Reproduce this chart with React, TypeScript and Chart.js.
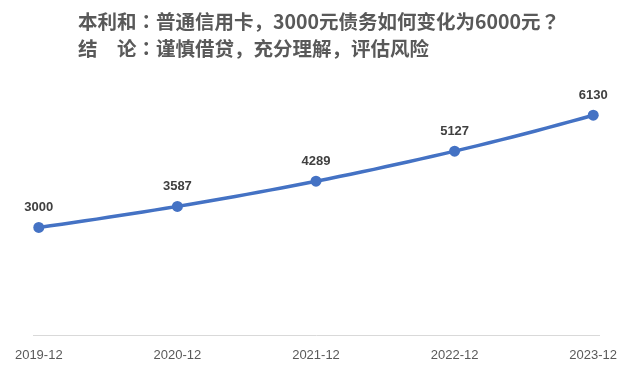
import React, { useEffect, useRef } from "react";
import { Chart, registerables } from "chart.js";

Chart.register(...registerables);

const months: string[] = [
  "2019-12",
  "2020-01", "2020-02", "2020-03", "2020-04", "2020-05", "2020-06", "2020-07", "2020-08", "2020-09", "2020-10", "2020-11", "2020-12",
  "2021-01", "2021-02", "2021-03", "2021-04", "2021-05", "2021-06", "2021-07", "2021-08", "2021-09", "2021-10", "2021-11", "2021-12",
  "2022-01", "2022-02", "2022-03", "2022-04", "2022-05", "2022-06", "2022-07", "2022-08", "2022-09", "2022-10", "2022-11", "2022-12",
  "2023-01", "2023-02", "2023-03", "2023-04", "2023-05", "2023-06", "2023-07", "2023-08", "2023-09", "2023-10", "2023-11", "2023-12",
];

const balance: number[] = [
  3000,
  3045, 3091, 3137, 3184, 3232, 3281, 3330, 3380, 3431, 3482, 3534, 3587,
  3641, 3695, 3751, 3807, 3864, 3922, 3981, 4041, 4101, 4163, 4225, 4289,
  4353, 4418, 4485, 4552, 4620, 4690, 4760, 4832, 4904, 4978, 5052, 5127,
  5204, 5282, 5361, 5442, 5523, 5606, 5690, 5776, 5862, 5950, 6039, 6130,
];

const tickLabels: string[] = ["2019-12", "2020-12", "2021-12", "2022-12", "2023-12"];

const titleLine1 = "本利和：普通信用卡，3000元债务如何变化为6000元？";
const titleLine2 = "结\u3000论：谨慎借贷，充分理解，评估风险";

const BLUE = "#4472C4";

const labelPlugin = {
  id: "yearLabels",
  afterDatasetsDraw(chart: any) {
    const ctx = chart.ctx;
    const meta = chart.getDatasetMeta(0);
    ctx.save();
    ctx.font = "bold 13px 'Liberation Sans', 'DejaVu Sans', sans-serif";
    ctx.fillStyle = "#404040";
    ctx.textAlign = "center";
    ctx.textBaseline = "middle";
    meta.data.forEach((pt: any, i: number) => {
      if (tickLabels.includes(months[i])) {
        ctx.fillText(String(balance[i]), pt.x, pt.y - 20);
      }
    });
    ctx.restore();
  },
};

// Render full-width colon / question mark with a font whose glyphs are centred
function TitleLine({ text }: { text: string }) {
  const parts = text.split(/([：？])/);
  return (
    <div>
      {parts.map((p, i) =>
        p === "：" || p === "？" ? (
          <span key={i} style={{ fontFamily: "'Noto Sans CJK JP', sans-serif" }}>
            {p}
          </span>
        ) : (
          <React.Fragment key={i}>{p}</React.Fragment>
        )
      )}
    </div>
  );
}

export default function App() {
  const ref = useRef<HTMLCanvasElement | null>(null);

  useEffect(() => {
    if (!ref.current) return;
    const isYear = (i: number) => tickLabels.includes(months[i]);
    const chart = new Chart(ref.current, {
      type: "line",
      data: {
        labels: months,
        datasets: [
          {
            data: balance,
            borderColor: BLUE,
            backgroundColor: BLUE,
            borderWidth: 3.5,
            tension: 0,
            pointRadius: (c: any) => (isYear(c.dataIndex) ? 5.5 : 0),
            pointHoverRadius: 0,
            pointBackgroundColor: BLUE,
            pointBorderColor: BLUE,
            pointBorderWidth: 0,
          },
        ],
      },
      options: {
        animation: false,
        responsive: false,
        maintainAspectRatio: false,
        layout: { padding: { left: 33, right: 35, top: 84, bottom: 0 } },
        plugins: {
          legend: { display: false },
          tooltip: { enabled: false },
          title: { display: false },
        },
        scales: {
          x: {
            type: "category",
            offset: true,
            grid: { display: false, drawTicks: false },
            border: { display: true, color: "#D9D9D9", width: 1 },
            afterFit: (s: any) => {
              s.height = 34;
            },
            ticks: {
              autoSkip: false,
              maxRotation: 0,
              minRotation: 0,
              padding: 13,
              color: "#595959",
              font: { size: 13, family: "'Liberation Sans', sans-serif" },
              callback: (_v: any, i: number) => (isYear(i) ? months[i] : ""),
            },
          },
          y: {
            display: false,
            min: 0,
            max: 7000,
          },
        },
      },
      plugins: [labelPlugin],
    });
    return () => chart.destroy();
  }, []);

  return (
    <div style={{ position: "fixed", left: 0, top: 0, width: 634, height: 369, background: "#fff" }}>
      <canvas ref={ref} width={634} height={369} style={{ position: "absolute", left: 0, top: 0 }} />
      <div
        style={
          {
            position: "absolute",
            left: 78,
            top: 7,
            fontFamily: "'Noto Sans CJK SC', sans-serif",
            fontWeight: 700,
            fontSize: 19.5,
            lineHeight: "27px",
            color: "#595959",
            whiteSpace: "pre",
          } as any
        }
      >
        <TitleLine text={titleLine1} />
        <TitleLine text={titleLine2} />
      </div>
    </div>
  );
}
